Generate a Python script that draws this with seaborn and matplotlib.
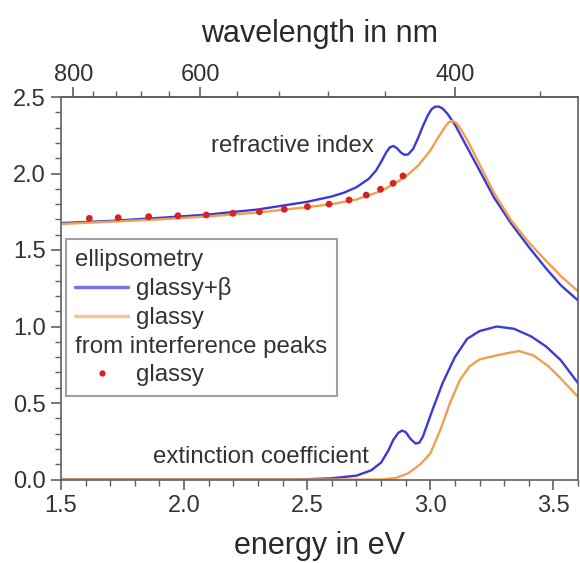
import numpy as np
import pandas as pd
import matplotlib
matplotlib.use("Agg")
import matplotlib.pyplot as plt
import seaborn as sns
from matplotlib.lines import Line2D
from matplotlib.ticker import MultipleLocator, FixedLocator, FormatStrFormatter

# ---------------- data ----------------
energy_n_beta = [1.5, 1.7, 1.9, 2.1, 2.3, 2.4, 2.5, 2.6, 2.65, 2.7, 2.75, 2.78, 2.80, 2.82,
                 2.835, 2.85, 2.865, 2.88, 2.895, 2.91, 2.93, 2.95, 2.97, 2.99, 3.005, 3.02,
                 3.035, 3.05, 3.07, 3.1, 3.14, 3.2, 3.26, 3.33, 3.4, 3.47, 3.53, 3.6]
n_glassy_beta = [1.676, 1.69, 1.71, 1.732, 1.765, 1.79, 1.815, 1.85, 1.875, 1.91, 1.965, 2.02,
                 2.075, 2.135, 2.17, 2.18, 2.165, 2.138, 2.122, 2.125, 2.16, 2.23, 2.31, 2.38,
                 2.42, 2.437, 2.437, 2.425, 2.39, 2.32, 2.2, 2.02, 1.84, 1.67, 1.52, 1.38,
                 1.27, 1.17]

energy_n_glassy = [1.5, 1.7, 1.9, 2.1, 2.3, 2.5, 2.6, 2.7, 2.8, 2.85, 2.9, 2.95, 3.0, 3.03,
                   3.06, 3.075, 3.09, 3.105, 3.12, 3.15, 3.2, 3.26, 3.33, 3.4, 3.47, 3.53, 3.6]
n_glassy = [1.67, 1.685, 1.70, 1.72, 1.745, 1.78, 1.80, 1.83, 1.885, 1.93, 1.98, 2.05, 2.15,
            2.23, 2.305, 2.335, 2.345, 2.33, 2.30, 2.22, 2.06, 1.87, 1.69, 1.55, 1.43, 1.33,
            1.23]

energy_k_beta = [1.5, 2.4, 2.5, 2.6, 2.7, 2.76, 2.8, 2.83, 2.85, 2.87, 2.885, 2.90, 2.92,
                 2.94, 2.955, 2.97, 2.99, 3.01, 3.05, 3.1, 3.15, 3.2, 3.27, 3.34, 3.41, 3.47,
                 3.53, 3.6]
k_glassy_beta = [0.0, 0.0, 0.002, 0.008, 0.025, 0.06, 0.11, 0.19, 0.26, 0.305, 0.32, 0.31,
                 0.265, 0.235, 0.24, 0.28, 0.37, 0.46, 0.63, 0.8, 0.92, 0.97, 1.0, 0.985,
                 0.935, 0.87, 0.78, 0.63]

energy_k_glassy = [1.5, 2.8, 2.86, 2.91, 2.96, 3.0, 3.04, 3.08, 3.12, 3.16, 3.2, 3.28, 3.36,
                   3.42, 3.48, 3.53, 3.6]
k_glassy = [0.0, 0.0, 0.01, 0.04, 0.1, 0.17, 0.32, 0.5, 0.65, 0.74, 0.785, 0.815, 0.84,
            0.81, 0.74, 0.66, 0.54]

energy_peaks = [1.615, 1.732, 1.856, 1.975, 2.09, 2.198, 2.306, 2.407, 2.501, 2.589, 2.67,
                2.74, 2.798, 2.849, 2.889]
n_peaks = [1.707, 1.711, 1.718, 1.724, 1.729, 1.74, 1.75, 1.766, 1.783, 1.80, 1.827, 1.859,
           1.897, 1.936, 1.984]

x_ticks = [1.5, 2.0, 2.5, 3.0, 3.5]
y_ticks = [0.0, 0.5, 1.0, 1.5, 2.0, 2.5]
wl_ticks = [800, 600, 400]
wl_minor = list(range(360, 801, 40))

legend_labels = ["ellipsometry", "glassy+\u03b2", "glassy", "from interference peaks", "glassy"]

BLUE = "#3a3ad8"
ORANGE = "#f0a04e"
RED = "#d62222"
TXT = "#2a2a2a"
SPINE = "#606060"

# ---------------- style ----------------
sns.set_theme(style="ticks")
plt.rcParams['font.family'] = ['Liberation Sans', 'DejaVu Sans']
plt.rcParams['text.color'] = TXT

fig = plt.figure(figsize=(5.8, 5.63), dpi=100)
ax = fig.add_axes([61 / 580, 1 - 479.5 / 563, (578 - 61) / 580, (479.5 - 97) / 563])

sns.lineplot(x=energy_n_beta, y=n_glassy_beta, color=BLUE, lw=1.7, ax=ax,
             sort=False, estimator=None, legend=False)
sns.lineplot(x=energy_n_glassy, y=n_glassy, color=ORANGE, lw=1.7, ax=ax,
             sort=False, estimator=None, legend=False)
sns.lineplot(x=energy_k_beta, y=k_glassy_beta, color=BLUE, lw=1.7, ax=ax,
             sort=False, estimator=None, legend=False)
sns.lineplot(x=energy_k_glassy, y=k_glassy, color=ORANGE, lw=1.7, ax=ax,
             sort=False, estimator=None, legend=False)
sns.scatterplot(x=energy_peaks, y=n_peaks, color=RED, s=24, edgecolor="none",
                ax=ax, legend=False, zorder=4)

ax.set_xlim(1.5, 3.6)
ax.set_ylim(0, 2.5)
ax.set_xticks(x_ticks)
ax.set_yticks(y_ticks)
ax.xaxis.set_major_formatter(FormatStrFormatter("%.1f"))
ax.yaxis.set_major_formatter(FormatStrFormatter("%.1f"))
ax.xaxis.set_minor_locator(MultipleLocator(0.1))
ax.yaxis.set_minor_locator(MultipleLocator(0.1))

for s in ax.spines.values():
    s.set_visible(True)
    s.set_color(SPINE)
    s.set_linewidth(1.2)

ax.tick_params(which="major", direction="out", length=7, width=1.2, color=SPINE,
               labelsize=17, labelcolor="#333333", pad=4, top=False, right=False)
ax.tick_params(which="minor", direction="out", length=4, width=1.0, color=SPINE,
               top=False, right=False)

ax.set_xlabel("energy in eV", fontsize=22, labelpad=10, color=TXT)
ax.set_ylabel("")


def e_to_wl(E):
    E = np.asarray(E, dtype=float)
    out = np.full_like(E, np.inf)
    np.divide(1239.84, E, out=out, where=(E != 0))
    return out


secax = ax.secondary_xaxis("top", functions=(e_to_wl, e_to_wl))
secax.xaxis.set_major_locator(FixedLocator(wl_ticks))
secax.xaxis.set_minor_locator(FixedLocator(wl_minor))
secax.xaxis.set_major_formatter(FormatStrFormatter("%d"))
secax.tick_params(which="major", direction="out", length=7, width=1.2, color=SPINE,
                  labelsize=17, labelcolor="#333333", pad=1)
secax.tick_params(which="minor", direction="out", length=4, width=1.0, color=SPINE)
secax.spines["top"].set_color(SPINE)
secax.spines["top"].set_linewidth(1.2)
secax.set_xlabel("wavelength in nm", fontsize=22, labelpad=16, color=TXT)

ax.text(2.11, 2.141, "refractive index", fontsize=17.3, color="#333333", va="baseline")
ax.text(1.874, 0.106, "extinction coefficient", fontsize=17.3, color="#333333", va="baseline")

# ---------------- legend ----------------
blank1 = Line2D([], [], linestyle="none")
blank2 = Line2D([], [], linestyle="none")
h_blue = Line2D([], [], color=BLUE, lw=2.5, alpha=0.7)
h_orange = Line2D([], [], color=ORANGE, lw=2.5, alpha=0.6)
h_dot = Line2D([], [], linestyle="none", marker="o", color=RED, markersize=4.5,
               markeredgewidth=0)
leg = ax.legend([blank1, h_blue, h_orange, blank2, h_dot], legend_labels,
                loc="upper left", bbox_to_anchor=(0.009, 0.629), borderaxespad=0,
                fontsize=17.3, handlelength=2.2, handletextpad=0.33, labelspacing=0.28,
                borderpad=0.4, fancybox=False, framealpha=1, edgecolor="#a0a0a0",
                numpoints=1)
leg.get_frame().set_linewidth(1.5)
for t in leg.get_texts():
    t.set_color("#333333")

for col in leg._legend_handle_box.get_children():
    for item in col.get_children():
        kids = item.get_children()
        if len(kids) == 2:
            h, t = kids
            if hasattr(t, "get_text") and t.get_text() in ("ellipsometry", "from interference peaks"):
                h.width = 0
                item.sep = 0

fig.savefig("out.png", dpi=100)
